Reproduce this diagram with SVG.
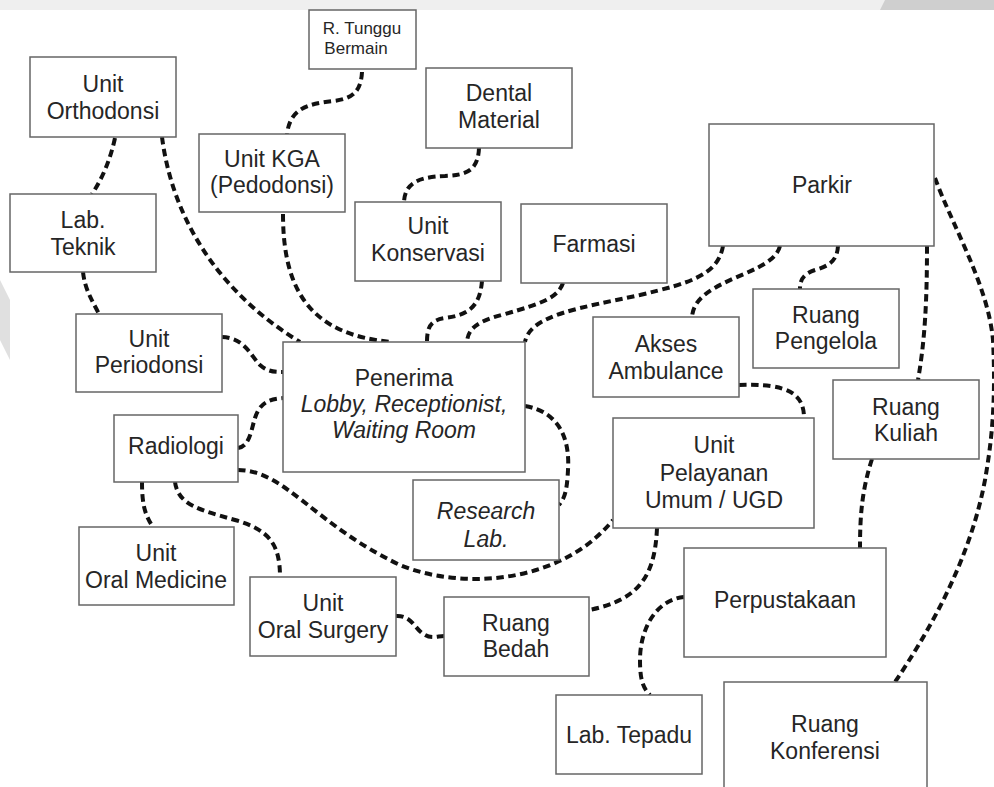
<svg xmlns="http://www.w3.org/2000/svg" width="994" height="787" viewBox="0 0 994 787">
<style>
.box{fill:#fff;stroke:#666;stroke-width:1.5}
.t{font-family:"Liberation Sans",Arial,sans-serif;font-size:23px;fill:#262626;text-anchor:middle}
.i{font-style:italic}
.s{font-size:17px}
.c{fill:none;stroke:#111;stroke-width:4;stroke-dasharray:7.5 4.5}
</style>
<rect x="0" y="0" width="994" height="787" fill="#fff"/>
<g id="watermark">
<rect x="0" y="0" width="994" height="10" fill="#efefef"/>
<polygon points="885,0 994,0 994,10 880,10" fill="#cfcfcf"/>
<polygon points="0,280 10,300 10,360 0,340" fill="#e0e0e0"/>
</g>
<g id="connectors">
<path class="c" d="M115,138 Q108,170 92,194"/>
<path class="c" d="M162,137 C172,215 215,290 300,342"/>
<path class="c" d="M362,72 C361,92 352,99 333,101 C305,104 290,110 287,134"/>
<path class="c" d="M283,214 C283,290 310,335 392,342"/>
<path class="c" d="M479,148 C478,172 465,175 445,176 C415,177 405,185 404,202"/>
<path class="c" d="M482,281 C480,305 470,315 445,318 C430,320 427,328 427,342"/>
<path class="c" d="M563,283 C558,298 540,304 505,314 C478,321 468,328 467,342"/>
<path class="c" d="M723,246 C718,275 690,283 640,295 C580,308 530,315 525,342"/>
<path class="c" d="M780,246 C775,265 745,272 722,284 C700,295 693,305 692,317"/>
<path class="c" d="M838,246 C837,262 828,266 815,270 C803,274 800,280 800,289"/>
<path class="c" d="M927,246 C927,300 925,340 918,380"/>
<path class="c" d="M935,178 C952,225 988,285 993,340 C996,400 992,440 985,480 C970,560 930,630 895,682"/>
<path class="c" d="M739,385 C790,383 804,395 804,418"/>
<path class="c" d="M525,406 C560,412 570,440 568,470 C567,490 565,498 559,505"/>
<path class="c" d="M222,337 C245,338 250,355 260,365 C268,372 275,372 283,372"/>
<path class="c" d="M83,272 C85,290 92,300 99,314"/>
<path class="c" d="M238,448 C250,446 251,430 255,418 C260,402 270,399 283,398"/>
<path class="c" d="M238,470 C285,470 315,525 400,565 C460,590 560,585 613,520"/>
<path class="c" d="M142,482 C142,505 145,515 153,527"/>
<path class="c" d="M175,482 C178,505 200,510 235,520 C270,530 280,545 280,577"/>
<path class="c" d="M396,616 C412,615 415,630 425,635 C432,639 438,636 444,636"/>
<path class="c" d="M657,528 C655,575 640,600 589,610"/>
<path class="c" d="M872,459 C862,490 860,515 860,548"/>
<path class="c" d="M684,597 C655,600 640,630 640,660 C640,680 643,688 650,695"/>
</g>
<g id="orthodonsi"><rect class="box" x="30" y="57" width="146" height="80"/><text class="t" x="103" y="92">Unit</text><text class="t" x="103" y="119">Orthodonsi</text></g>
<g id="tunggu"><rect class="box" x="309" y="10" width="107" height="59"/><text class="t s" x="362" y="34">R. Tunggu</text><text class="t s" x="356" y="54">Bermain</text></g>
<g id="kga"><rect class="box" x="199" y="134" width="146" height="78"/><text class="t" x="272" y="167">Unit KGA</text><text class="t" x="272" y="193">(Pedodonsi)</text></g>
<g id="dental"><rect class="box" x="426" y="68" width="146" height="80"/><text class="t" x="499" y="101">Dental</text><text class="t" x="499" y="128">Material</text></g>
<g id="teknik"><rect class="box" x="10" y="194" width="146" height="78"/><text class="t" x="83" y="228">Lab.</text><text class="t" x="83" y="255">Teknik</text></g>
<g id="konservasi"><rect class="box" x="355" y="202" width="146" height="79"/><text class="t" x="428" y="234">Unit</text><text class="t" x="428" y="261">Konservasi</text></g>
<g id="farmasi"><rect class="box" x="521" y="204" width="146" height="79"/><text class="t" x="594" y="252">Farmasi</text></g>
<g id="parkir"><rect class="box" x="709" y="124" width="225" height="122"/><text class="t" x="822" y="193">Parkir</text></g>
<g id="pengelola"><rect class="box" x="753" y="289" width="146" height="79"/><text class="t" x="826" y="323">Ruang</text><text class="t" x="826" y="349">Pengelola</text></g>
<g id="akses"><rect class="box" x="593" y="317" width="146" height="80"/><text class="t" x="666" y="352">Akses</text><text class="t" x="666" y="379">Ambulance</text></g>
<g id="periodonsi"><rect class="box" x="76" y="314" width="146" height="78"/><text class="t" x="149" y="347">Unit</text><text class="t" x="149" y="373">Periodonsi</text></g>
<g id="penerima"><rect class="box" x="283" y="342" width="242" height="130"/><text class="t" x="404" y="386">Penerima</text><text class="t i" x="404" y="412">Lobby, Receptionist,</text><text class="t i" x="404" y="438">Waiting Room</text></g>
<g id="radiologi"><rect class="box" x="114" y="415" width="124" height="67"/><text class="t" x="176" y="454">Radiologi</text></g>
<g id="kuliah"><rect class="box" x="833" y="380" width="146" height="79"/><text class="t" x="906" y="415">Ruang</text><text class="t" x="906" y="441">Kuliah</text></g>
<g id="ugd"><rect class="box" x="613" y="418" width="201" height="110"/><text class="t" x="714" y="453">Unit</text><text class="t" x="714" y="481">Pelayanan</text><text class="t" x="714" y="508">Umum / UGD</text></g>
<g id="research"><rect class="box" x="413" y="480" width="146" height="80"/><text class="t i" x="486" y="519">Research</text><text class="t i" x="486" y="547">Lab.</text></g>
<g id="oralmed"><rect class="box" x="79" y="527" width="155" height="78"/><text class="t" x="156" y="561">Unit</text><text class="t" x="156" y="588">Oral Medicine</text></g>
<g id="oralsurg"><rect class="box" x="250" y="577" width="146" height="79"/><text class="t" x="323" y="611">Unit</text><text class="t" x="323" y="638">Oral Surgery</text></g>
<g id="bedah"><rect class="box" x="444" y="597" width="145" height="79"/><text class="t" x="516" y="631">Ruang</text><text class="t" x="516" y="657">Bedah</text></g>
<g id="perpustakaan"><rect class="box" x="684" y="548" width="202" height="109"/><text class="t" x="785" y="608">Perpustakaan</text></g>
<g id="tepadu"><rect class="box" x="556" y="695" width="146" height="79"/><text class="t" x="629" y="743">Lab. Tepadu</text></g>
<g id="konferensi"><rect class="box" x="724" y="682" width="203" height="110"/><text class="t" x="825" y="732">Ruang</text><text class="t" x="825" y="759">Konferensi</text></g>
</svg>
